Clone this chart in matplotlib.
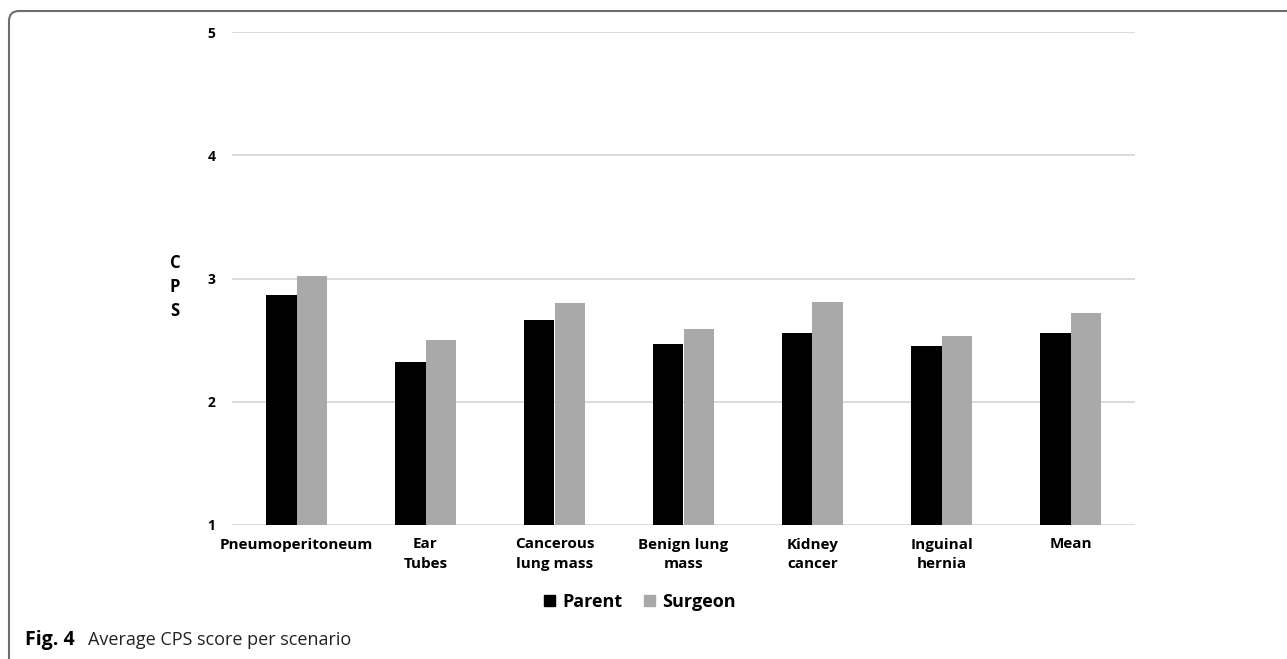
import matplotlib.pyplot as plt
import numpy as np
from matplotlib.patches import Patch, PathPatch
from matplotlib.path import Path

categories = ["Pneumoperitoneum", "Ear\nTubes", "Cancerous\nlung mass", "Benign lung\nmass",
              "Kidney\ncancer", "Inguinal\nhernia", "Mean"]
parent = [2.87, 2.32, 2.66, 2.47, 2.56, 2.45, 2.56]
surgeon = [3.02, 2.50, 2.80, 2.59, 2.81, 2.53, 2.72]
yticks = [1, 2, 3, 4, 5]

FONT = ["Open Sans", "DejaVu Sans"]
plt.rcParams["font.family"] = FONT

W, H = 1287, 659
fig = plt.figure(figsize=(W / 100, H / 100), dpi=100)
ax = fig.add_axes([232 / W, 1 - 525 / H, (1135 - 232) / W, (525 - 32) / H])

x = np.arange(len(categories))
bw = 0.235
ax.bar(x - bw / 2, np.array(parent) - 1, bw, bottom=1, color="black", label="Parent", zorder=3)
ax.bar(x + bw / 2, np.array(surgeon) - 1, bw, bottom=1, color="#A9A9A9", label="Surgeon", zorder=3)

ax.set_xlim(-0.5, len(categories) - 0.5)
ax.set_ylim(1, 5)
ax.set_yticks(yticks)
ax.set_yticklabels([str(t) for t in yticks], fontweight="bold", fontsize=10)
ax.set_xticks(x)
ax.set_xticklabels(categories, fontweight="bold", fontsize=11, linespacing=1.5)
ax.tick_params(axis="x", length=0, pad=9)
ax.tick_params(axis="y", length=0, pad=12)
ax.grid(axis="y", color="#D9D9D9", linewidth=1.3, zorder=0)
for s in ax.spines.values():
    s.set_visible(False)

fig.text(175 / W, 1 - 287 / H, "C\nP\nS", ha="center", va="center",
         fontweight="bold", fontsize=12, linespacing=1.45)

handles = [Patch(color="black"), Patch(color="#A9A9A9")]
fig.legend(handles, ["Parent", "Surgeon"], loc="center", bbox_to_anchor=(640 / W, 1 - 602 / H),
           ncol=2, frameon=False, prop={"weight": "bold", "size": 13},
           handlelength=0.6, handleheight=0.6, handletextpad=0.4, columnspacing=1.2)

# caption
fig.text(25 / W, 1 - 640 / H, "Fig. 4", fontweight="bold", fontsize=14, va="center")
fig.text(88 / W, 1 - 640 / H, "Average CPS score per scenario", fontsize=13, va="center", color="#222222")

# rounded border (top and left sides)
r = 10
x0, y0 = 9, 11
verts = [(x0, H), (x0, y0 + r), (x0, y0), (x0 + r, y0), (W, y0)]
codes = [Path.MOVETO, Path.LINETO, Path.CURVE3, Path.CURVE3, Path.LINETO]
verts = [(vx / W, 1 - vy / H) for vx, vy in verts]
fig.patches.append(PathPatch(Path(verts, codes), transform=fig.transFigure, fill=False,
                             edgecolor="#6E6E6E", linewidth=1.5))

fig.savefig("out.png", dpi=100)
